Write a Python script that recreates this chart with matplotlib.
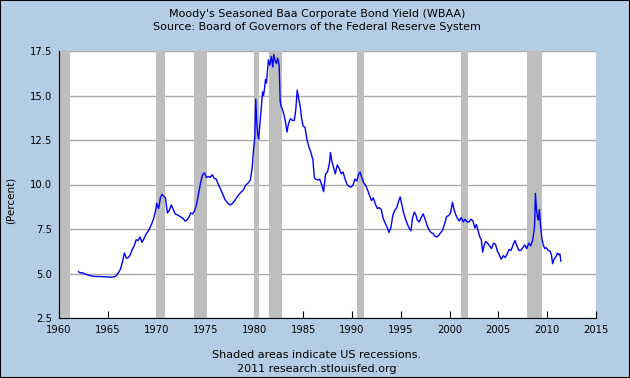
import numpy as np
import matplotlib.pyplot as plt

# --- Data (weekly series thinned out; one line per year) ---
dates = [
    1962.0, 1962.2, 1962.4, 1962.6, 1962.8,
    1963.0, 1963.3, 1963.6, 1963.9,
    1964.2, 1964.5, 1964.8,
    1965.1, 1965.4, 1965.7, 1965.9,
    1966.1, 1966.3, 1966.5, 1966.7, 1966.9,
    1967.1, 1967.3, 1967.5, 1967.7, 1967.9,
    1968.1, 1968.3, 1968.5, 1968.7, 1968.9,
    1969.1, 1969.3, 1969.5, 1969.7, 1969.9,
    1970.0, 1970.2, 1970.4, 1970.55, 1970.7, 1970.9,
    1971.1, 1971.3, 1971.5, 1971.7, 1971.9,
    1972.1, 1972.4, 1972.7, 1972.9,
    1973.1, 1973.3, 1973.5, 1973.7, 1973.9,
    1974.1, 1974.3, 1974.5, 1974.7, 1974.9,
    1975.1, 1975.3, 1975.5, 1975.7, 1975.9,
    1976.1, 1976.4, 1976.7,
    1977.0, 1977.3, 1977.5, 1977.7,
    1978.0, 1978.3, 1978.6, 1978.9,
    1979.1, 1979.4, 1979.6, 1979.8, 1979.9,
    1980.05, 1980.15, 1980.25, 1980.35, 1980.45, 1980.55, 1980.65, 1980.75, 1980.85, 1980.95,
    1981.05, 1981.15, 1981.25, 1981.35, 1981.45, 1981.6, 1981.75, 1981.9,
    1982.0, 1982.1, 1982.25, 1982.4, 1982.55, 1982.65, 1982.75, 1982.9,
    1983.05, 1983.2, 1983.35, 1983.5, 1983.7, 1983.9,
    1984.1, 1984.25, 1984.4, 1984.55, 1984.7, 1984.85,
    1985.0, 1985.2, 1985.4, 1985.6, 1985.8,
    1986.0, 1986.15, 1986.3, 1986.5, 1986.7, 1986.9,
    1987.1, 1987.3, 1987.5, 1987.7, 1987.8, 1987.95,
    1988.1, 1988.3, 1988.5, 1988.7, 1988.9,
    1989.1, 1989.3, 1989.5, 1989.7, 1989.9,
    1990.1, 1990.3, 1990.5, 1990.7, 1990.85,
    1991.0, 1991.2, 1991.4, 1991.6, 1991.8,
    1992.0, 1992.2, 1992.4, 1992.6, 1992.8,
    1993.0, 1993.2, 1993.4, 1993.6, 1993.8,
    1994.0, 1994.2, 1994.4, 1994.6, 1994.8, 1994.95,
    1995.1, 1995.3, 1995.5, 1995.7, 1995.9,
    1996.05, 1996.2, 1996.4, 1996.55, 1996.7, 1996.9,
    1997.1, 1997.3, 1997.5, 1997.7, 1997.9,
    1998.1, 1998.3, 1998.5, 1998.7, 1998.9,
    1999.1, 1999.3, 1999.5, 1999.7, 1999.9,
    2000.1, 2000.3, 2000.45, 2000.6, 2000.8,
    2001.0, 2001.2, 2001.4, 2001.6, 2001.8,
    2002.0, 2002.2, 2002.4, 2002.6, 2002.75, 2002.9,
    2003.1, 2003.25, 2003.4, 2003.55, 2003.7, 2003.9,
    2004.1, 2004.3, 2004.5, 2004.7, 2004.9,
    2005.05, 2005.3, 2005.5, 2005.7, 2005.9,
    2006.1, 2006.3, 2006.5, 2006.7, 2006.9,
    2007.1, 2007.3, 2007.5, 2007.7, 2007.9,
    2008.1, 2008.3, 2008.5, 2008.6, 2008.7, 2008.8, 2008.9,
    2009.0, 2009.1, 2009.2, 2009.3, 2009.45, 2009.6, 2009.75, 2009.9,
    2010.1, 2010.3, 2010.45, 2010.55, 2010.7, 2010.9,
    2011.05, 2011.2, 2011.3, 2011.4,
]
yields = [
    5.10, 5.03, 5.05, 4.98, 4.95,
    4.91, 4.87, 4.84, 4.83,
    4.83, 4.82, 4.81,
    4.80, 4.80, 4.82, 4.90,
    5.06, 5.25, 5.65, 6.15, 5.85,
    5.90, 6.05, 6.35, 6.55, 6.90,
    6.85, 7.05, 6.75, 6.95, 7.20,
    7.35, 7.55, 7.80, 8.10, 8.55,
    8.95, 8.65, 9.30, 9.45, 9.35, 9.25,
    8.40, 8.55, 8.85, 8.60, 8.35,
    8.30, 8.20, 8.10, 7.95,
    8.00, 8.15, 8.40, 8.35, 8.55,
    8.90, 9.50, 10.10, 10.55, 10.65,
    10.40, 10.45, 10.40, 10.55, 10.35,
    10.30, 9.90, 9.55,
    9.15, 8.95, 8.85, 8.90,
    9.10, 9.35, 9.55, 9.70,
    9.95, 10.10, 10.25, 11.00, 11.80,
    12.60, 14.80, 13.50, 12.80, 12.55, 13.20, 13.80, 14.50, 15.20, 15.00,
    15.40, 15.90, 15.70, 16.40, 17.00, 16.70, 17.20, 16.60,
    17.30, 17.00, 16.80, 17.10, 16.70, 14.70, 14.40, 14.20,
    13.90, 13.50, 12.95, 13.40, 13.70, 13.60,
    13.60, 14.20, 15.30, 14.80, 14.40, 13.70,
    13.30, 13.20, 12.50, 12.10, 11.80,
    11.40, 10.40, 10.30, 10.25, 10.30, 10.00,
    9.60, 10.60, 10.70, 11.20, 11.80, 11.30,
    11.00, 10.60, 11.10, 10.90, 10.60,
    10.70, 10.30, 10.00, 9.90, 9.85,
    9.95, 10.30, 10.20, 10.60, 10.70,
    10.40, 10.10, 9.95, 9.70, 9.40,
    9.10, 9.25, 8.90, 8.65, 8.70,
    8.60, 8.10, 7.85, 7.60, 7.30,
    7.60, 8.30, 8.55, 8.70, 9.10, 9.30,
    8.90, 8.40, 8.05, 7.75, 7.50,
    7.40, 8.10, 8.45, 8.30, 8.00, 7.90,
    8.15, 8.35, 8.05, 7.70, 7.45,
    7.30, 7.25, 7.10, 7.05, 7.15,
    7.30, 7.45, 7.80, 8.20, 8.25,
    8.40, 9.00, 8.60, 8.35, 8.10,
    7.95, 8.15, 7.90, 8.05, 7.90,
    7.90, 8.05, 7.95, 7.55, 7.75, 7.45,
    7.05, 6.90, 6.20, 6.60, 6.80, 6.70,
    6.55, 6.40, 6.70, 6.65, 6.25,
    6.10, 5.80, 6.00, 5.90, 6.10,
    6.35, 6.30, 6.60, 6.85, 6.55,
    6.30, 6.30, 6.45, 6.60, 6.40,
    6.70, 6.55, 6.85, 7.20, 7.60, 9.50, 8.60,
    8.20, 8.00, 8.60, 7.80, 7.00, 6.60, 6.40, 6.45,
    6.30, 6.25, 6.00, 5.55, 5.80, 5.95,
    6.15, 6.05, 6.10, 5.70,
]

# Recession periods (start, end) in decimal years
rec_start = [1960.0, 1969.9, 1973.85, 1980.0, 1981.5, 1990.5, 2001.2, 2007.9]
rec_end = [1961.1, 1970.85, 1975.2, 1980.5, 1982.85, 1991.2, 2001.85, 2009.45]

xticks = np.arange(1960, 2016, 5)
yticks = np.arange(2.5, 17.6, 2.5)

# --- Plotting ---
bg = '#B4CDE4'
fig = plt.figure(figsize=(6.3, 3.78), dpi=100, facecolor=bg)
ax = fig.add_axes([59/630, 1 - 318/378, (596 - 59)/630, (318 - 51)/378])
ax.set_facecolor('white')

for a, b in zip(rec_start, rec_end):
    ax.axvspan(a, b, color='#BEBEBE', lw=0, zorder=1)

ax.plot(dates, yields, color='#0000FF', lw=1.0, zorder=3)

ax.set_xlim(1960, 2015)
ax.set_ylim(2.5, 17.5)
ax.set_xticks(xticks)
ax.set_yticks(yticks)
ax.set_yticklabels([f'{v:.1f}' for v in yticks])
ax.yaxis.grid(True, color='#AAAAAA', lw=1, zorder=0)
ax.set_axisbelow(True)
for s in ['top', 'right']:
    ax.spines[s].set_visible(False)
ax.tick_params(direction='in', length=5, labelsize=7.2, colors='black', pad=5)
ax.set_ylabel('(Percent)', fontsize=7.5)
ax.yaxis.set_label_coords(-0.081, 0.44)

# figure border
fig.patches.append(plt.Rectangle((0, 0), 1, 1, transform=fig.transFigure,
                                 fill=False, edgecolor='black', lw=1.5))

fig.text(0.503, 1 - 14/378, "Moody's Seasoned Baa Corporate Bond Yield (WBAA)",
         ha='center', va='center', fontsize=8)
fig.text(0.503, 1 - 27/378, 'Source: Board of Governors of the Federal Reserve System',
         ha='center', va='center', fontsize=8)
fig.text(0.503, 1 - 355/378, 'Shaded areas indicate US recessions.',
         ha='center', va='center', fontsize=8)
fig.text(0.503, 1 - 369/378, '2011 research.stlouisfed.org',
         ha='center', va='center', fontsize=8)

fig.savefig('out.png', dpi=100, facecolor=bg)
